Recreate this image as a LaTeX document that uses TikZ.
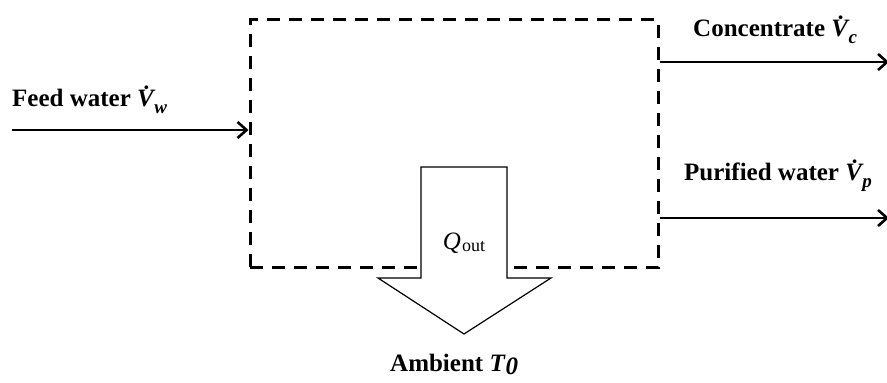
\documentclass[tikz,border=0pt]{standalone}
\usepackage{fontspec}
\setmainfont{Liberation Serif}
\usetikzlibrary{arrows.meta}
\newcommand{\vdotsym}[1]{{\bfseries\itshape \.{V}}\kern0.5pt\raisebox{-0.28em}{\fontsize{19}{19}\selectfont\bfseries\itshape #1}}
\begin{document}
\begin{tikzpicture}[x=1pt,y=1pt,
  lbl/.style={font=\fontsize{25}{25}\selectfont\bfseries, inner sep=0pt, anchor=base west},
  flow/.style={line width=2.6pt, -{Straight Barb[length=9pt,width=16pt,line width=2.6pt]}},
  sysbox/.style={draw, line width=3pt, dash pattern=on 13pt off 9pt, minimum width=408pt, minimum height=248pt, inner sep=0pt}]
\useasboundingbox (0,0) rectangle (887,383);
\node[sysbox] (box) at (454,239) {};
% inputs/outputs
\coordinate (fin) at (12,253);
\coordinate (fout) at (box.west |- fin);
\draw[flow] (fin) -- (fout);
\coordinate (cin) at (box.east |- 0,321);
\coordinate (cout) at (889,321);
\draw[flow] (cin) -- (cout);
\coordinate (pin) at (box.east |- 0,165);
\coordinate (pout) at (889,165);
\draw[flow] (pin) -- (pout);
% labels
\node[lbl] (feedlbl) at (12,276) {Feed water \vdotsym{w}};
\node[lbl] (conclbl) at (693,346) {Concentrate \vdotsym{c}};
\node[lbl] (purlbl) at (684,202) {Purified water \vdotsym{p}};
% heat arrow
\draw[line width=1.2pt, fill=white, line join=miter]
  (421,216) -- (507,216) -- (507,105) -- (551,105) -- (464,49) -- (378,105) -- (421,105) -- cycle;
\node[font=\fontsize{25}{25}\selectfont, inner sep=0pt] (qout) at (464,140) {\textit{Q}\kern1pt\raisebox{-0.1em}{\fontsize{18}{18}\selectfont out}};
\node[lbl] (amb) at (390,11) {Ambient \textit{T}\raisebox{-0.12em}{\itshape 0}};
\end{tikzpicture}
\end{document}
